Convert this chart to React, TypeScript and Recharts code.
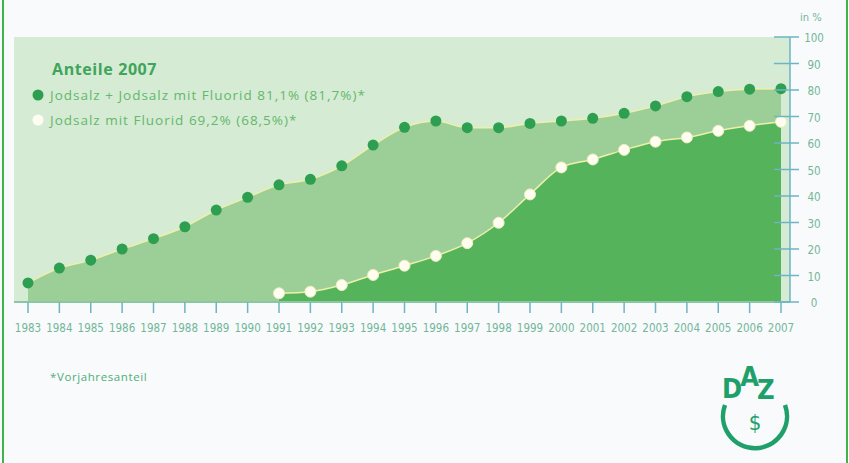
import React from 'react';
import { ComposedChart, Area, XAxis, YAxis, CartesianGrid } from 'recharts';

const years = ['1983','1984','1985','1986','1987','1988','1989','1990','1991','1992','1993','1994','1995','1996','1997','1998','1999','2000','2001','2002','2003','2004','2005','2006','2007'];
const jodsalzGesamt = [7.2,12.8,15.8,20.0,23.9,28.4,34.7,39.5,44.2,46.3,51.4,59.2,65.9,68.3,65.8,65.8,67.4,68.3,69.3,71.2,74.0,77.5,79.4,80.3,80.5];
const jodsalzFluorid = [null,null,null,null,null,null,null,null,3.3,3.9,6.4,10.2,13.7,17.4,22.2,29.9,40.6,50.8,53.8,57.4,60.5,62.1,64.6,66.5,68.0];
const yTicks = [0,10,20,30,40,50,60,70,80,90,100];
const legendTitle = 'Anteile 2007';
const legendItems = ['Jodsalz + Jodsalz mit Fluorid 81,1% (81,7%)*', 'Jodsalz mit Fluorid 69,2% (68,5%)*'];
const footnote = '*Vorjahresanteil';
const unitLabel = 'in %';

const data = years.map((y, i) => ({ year: y, gesamt: jodsalzGesamt[i], fluorid: jodsalzFluorid[i] }));

const narrow = '"Liberation Sans Narrow", "DejaVu Sans Condensed", "Liberation Sans", sans-serif';
const sans = '"Open Sans", sans-serif';
const tickColor = '#6db4c4';
const labelColor = '#72b79a';

const XTick = (props: any) => {
  const { x, y, payload } = props;
  return (
    <g>
      <line x1={x} x2={x} y1={y} y2={y + 11} stroke={tickColor} strokeWidth={1.5} />
      <text x={x} y={y + 30} textAnchor="middle" fontFamily={narrow} fontSize={11.5} fill={labelColor}>{payload.value}</text>
    </g>
  );
};

const YTick = (props: any) => {
  const { x, y, payload } = props;
  return (
    <g>
      <line x1={x - 16} x2={x + 9} y1={y} y2={y} stroke={tickColor} strokeWidth={1.5} />
      <text x={x + 24} y={y + 5} textAnchor="middle" fontFamily={narrow} fontSize={11.5} fill={labelColor}>{payload.value}</text>
    </g>
  );
};

export default function App() {
  return (
    <div style={{ position: 'absolute', left: 0, top: 0, width: 849, height: 463, background: '#f9fafc', overflow: 'hidden' }}>
      <div style={{ position: 'absolute', left: 2, top: -10, width: 842, height: 490, border: '2px solid #3db54a' }} />
      <div style={{ position: 'absolute', left: 0, top: 0 }}>
        <ComposedChart width={849} height={463} data={data} margin={{ top: 37, right: 19, bottom: 131, left: 14 }}>
          <CartesianGrid horizontal={false} vertical={false} fill="#d6ebd4" />
          <XAxis dataKey="year" padding={{ left: 14, right: 9 }} tick={<XTick />} tickLine={false} tickSize={0} tickMargin={0} axisLine={{ stroke: '#8cc7a4', strokeWidth: 2 }} interval={0} height={30} />
          <YAxis orientation="right" domain={[0, 100]} ticks={yTicks} tick={<YTick />} tickLine={false} tickSize={0} tickMargin={0} axisLine={{ stroke: tickColor, strokeWidth: 1.5 }} width={40} interval={0} />
          <Area type="monotone" dataKey="gesamt" fill="#9ccf98" fillOpacity={1} stroke="#eef0a8" strokeWidth={1.5} dot={{ r: 5.5, fill: '#2e9f51', stroke: 'none' }} isAnimationActive={false} />
          <Area type="monotone" dataKey="fluorid" fill="#55b35b" fillOpacity={1} stroke="#eef0a8" strokeWidth={1.5} dot={{ r: 5.5, fill: '#fffdf0', stroke: '#f0eec0', strokeWidth: 1 }} isAnimationActive={false} />
        </ComposedChart>
      </div>
      <svg width={849} height={463} style={{ position: 'absolute', left: 0, top: 0, pointerEvents: 'none' }}>
        <text x={800} y={21} fontFamily={narrow} fontSize={11} fill={labelColor}>{unitLabel}</text>
        <text x={52} y={75} fontFamily={sans} fontWeight={700} fontSize={16} letterSpacing={0.6} fill="#3ea55a">{legendTitle}</text>
        <circle cx={38} cy={95} r={5.5} fill="#2e9f51" />
        <text x={50} y={100} fontFamily={sans} fontSize={13.5} letterSpacing={1} fill="#62b86c">{legendItems[0]}</text>
        <circle cx={38} cy={120} r={5.5} fill="#fffdf0" />
        <text x={50} y={125} fontFamily={sans} fontSize={13.5} letterSpacing={1} fill="#62b86c">{legendItems[1]}</text>
        <text x={50} y={381} fontFamily={sans} fontSize={11.5} letterSpacing={0.6} fill="#4fae78">{footnote}</text>
        <text x={722} y={398} fill="#1fa06a" fontFamily='"DejaVu Sans Condensed", "DejaVu Sans", sans-serif' fontWeight={700} fontSize={27} letterSpacing={-2}>
          <tspan>D</tspan><tspan dy={-12}>A</tspan><tspan dy={13}>Z</tspan>
        </text>
        <text x={755} y={430} textAnchor="middle" fill="#1fa06a" fontFamily='"DejaVu Sans Condensed", sans-serif' fontSize={22}>$</text>
        <path d="M 725 405 A 32 32 0 1 0 785 405" fill="none" stroke="#1fa06a" strokeWidth={4.5} />
      </svg>
    </div>
  );
}
